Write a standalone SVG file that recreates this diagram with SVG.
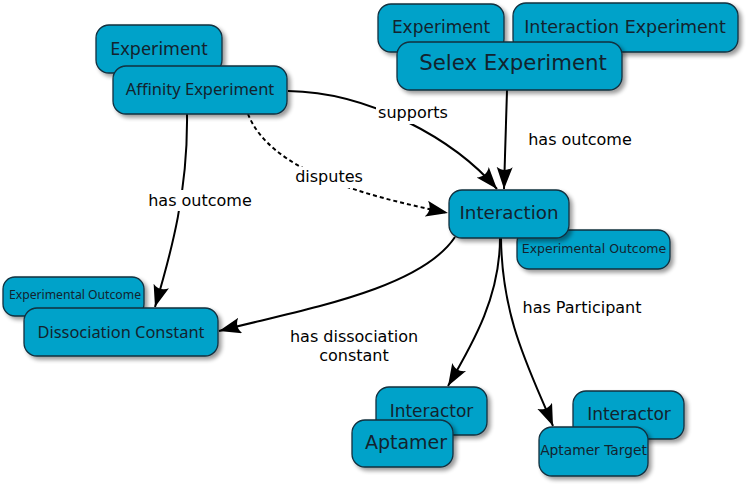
<svg xmlns="http://www.w3.org/2000/svg" width="750" height="487" viewBox="0 0 750 487">
<defs>
<filter id="sh" x="-10%" y="-15%" width="130%" height="150%">
<feGaussianBlur in="SourceAlpha" stdDeviation="2"/>
<feOffset dx="3" dy="3"/>
<feComponentTransfer><feFuncA type="linear" slope="0.4"/></feComponentTransfer>
<feMerge><feMergeNode/><feMergeNode in="SourceGraphic"/></feMerge>
</filter>
<marker id="arr" markerUnits="userSpaceOnUse" markerWidth="24" markerHeight="18" refX="22" refY="8" orient="auto" viewBox="0 0 24 18">
<path d="M0,0 L22,8 L0,16 C4,11 4,5 0,0 Z" fill="#000"/>
</marker>
<style>
.box{fill:#00a2c9;stroke:#12303f;stroke-width:1.3;filter:url(#sh)}
.dj{font-family:"DejaVu Sans",sans-serif;fill:#13232e;text-anchor:middle}
.ns{font-family:"Noto Sans","Open Sans",sans-serif;fill:#13232e;text-anchor:middle}
.edge{fill:none;stroke:#000;stroke-width:2;marker-end:url(#arr)}
.dash{stroke-dasharray:4,3}
.lbl{font-family:"DejaVu Sans",sans-serif;font-size:16px;fill:#000;text-anchor:middle}
.bg{fill:#fff}
</style>
</defs>
<rect width="750" height="487" fill="#fff"/>
<g id="connectors">
<path class="edge" d="M187,114 C188,190 172,250 155,307"/>
<path class="edge" d="M288,91 C370,92 455,140 497,189"/>
<path class="edge dash" d="M248,114 C270,170 360,195 448,213"/>
<path class="edge" d="M507,90 L504,189"/>
<path class="edge" d="M455,237 C420,290 300,310 219,331"/>
<path class="edge" d="M500,238 C500,295 475,340 448,386"/>
<path class="edge" d="M501,238 C502,320 530,370 553,426"/>
<rect class="bg" x="147" y="190" width="107" height="21"/>
<text class="lbl" x="200" y="206">has outcome</text>
<rect class="bg" x="376" y="103" width="74" height="21"/>
<text class="lbl" x="413" y="118">supports</text>
<rect class="bg" x="294" y="167" width="70" height="21"/>
<text class="lbl" x="329" y="182">disputes</text>
<text class="lbl" x="580" y="145">has outcome</text>
<text class="lbl" x="354" y="342">has dissociation</text>
<text class="lbl" x="354" y="361">constant</text>
<text class="lbl" x="582" y="313">has Participant</text>
</g>
<g id="experiment-left">
<rect class="box" x="96" y="25" width="126" height="48" rx="13"/>
<text class="ns" x="159" y="55" font-size="18">Experiment</text>
</g>
<g id="affinity-experiment">
<rect class="box" x="113" y="66" width="174" height="48" rx="13"/>
<text class="ns" x="200" y="95" font-size="16.5">Affinity Experiment</text>
</g>
<g id="experiment-right">
<rect class="box" x="378" y="4" width="126" height="48" rx="13"/>
<text class="dj" x="441" y="33" font-size="17">Experiment</text>
</g>
<g id="interaction-experiment">
<rect class="box" x="513" y="3" width="225" height="49" rx="13"/>
<text class="dj" x="625" y="33" font-size="17.5">Interaction Experiment</text>
</g>
<g id="selex-experiment">
<rect class="box" x="397" y="42" width="225" height="48" rx="13"/>
<text class="dj" x="513" y="70" font-size="21.3">Selex Experiment</text>
</g>
<g id="experimental-outcome-right">
<rect class="box" x="517" y="230" width="153" height="39" rx="12"/>
<text class="dj" x="594" y="253" font-size="12.5">Experimental Outcome</text>
</g>
<g id="interaction">
<rect class="box" x="449" y="190" width="120" height="48" rx="13"/>
<text class="dj" x="509" y="219" font-size="18.3">Interaction</text>
</g>
<g id="experimental-outcome-left">
<rect class="box" x="3" y="277" width="141" height="39" rx="12"/>
<text class="ns" x="75" y="299" font-size="12.2">Experimental Outcome</text>
</g>
<g id="dissociation-constant">
<rect class="box" x="24" y="308" width="194" height="48" rx="13"/>
<text class="ns" x="121" y="338" font-size="16.4">Dissociation Constant</text>
</g>
<g id="interactor-left">
<rect class="box" x="376" y="387" width="111" height="48" rx="13"/>
<text class="dj" x="431.5" y="417" font-size="17">Interactor</text>
</g>
<g id="aptamer">
<rect class="box" x="352" y="420" width="101" height="47" rx="13"/>
<text class="dj" x="406" y="449" font-size="19">Aptamer</text>
</g>
<g id="interactor-right">
<rect class="box" x="573" y="391" width="111" height="48" rx="13"/>
<text class="dj" x="629" y="420" font-size="17">Interactor</text>
</g>
<g id="aptamer-target">
<rect class="box" x="539" y="427" width="109" height="49" rx="13"/>
<text class="dj" x="593.5" y="455" font-size="13.8">Aptamer Target</text>
</g>
</svg>
